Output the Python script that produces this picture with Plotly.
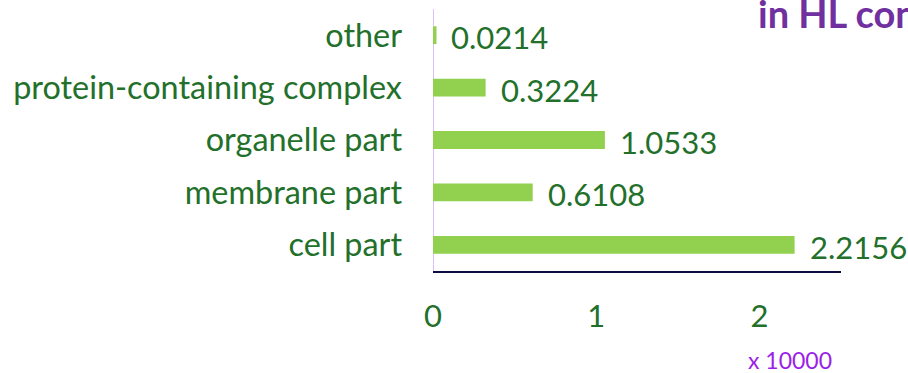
import plotly.graph_objects as go

# Cellular component categories and counts (in units of 10,000)
categories = ["cell part", "membrane part", "organelle part",
              "protein-containing complex", "other"]
values = [2.2156, 0.6108, 1.0533, 0.3224, 0.0214]
value_labels = ["2.2156", "0.6108", "1.0533", "0.3224", "0.0214"]
x_ticks = [0, 1, 2]
x_tick_text = ["0", "1", "2"]

BAR = "#92D050"
GREEN_TEXT = "#22702A"
PURPLE = "#7030A0"
FONT = "Lato"

L, R, T, B = 433, 67, 9, 102
W, H = 908, 373
PW, PH = W - L - R, H - T - B

fig = go.Figure()
fig.add_trace(go.Bar(
    x=values, y=categories, orientation="h",
    marker=dict(color=BAR, line=dict(width=0)),
    width=0.34, showlegend=False, hoverinfo="skip",
))

# value labels to the right of each bar
for cat, v, t in zip(categories, values, value_labels):
    fig.add_annotation(x=v, y=cat, text=t, xref="x", yref="y",
                       xanchor="left", yanchor="middle", showarrow=False,
                       xshift=13, yshift=-2,
                       font=dict(family=FONT, size=31, color=GREEN_TEXT))

# unit note under the axis
fig.add_annotation(xref="paper", yref="paper",
                   x=(790 - L) / PW, y=-(360 - (H - B)) / PH,
                   xanchor="center", yanchor="middle", showarrow=False,
                   text="x 10000",
                   font=dict(family=FONT, size=23, color="#9B1FE8"))

# heading text running off the right edge
fig.add_annotation(xref="paper", yref="paper", x=(756 - L) / PW, y=1.0,
                   xanchor="left", yanchor="top", showarrow=False,
                   yshift=21, text="<b>in HL con</b>",
                   font=dict(family=FONT, size=38, color=PURPLE))

fig.update_layout(
    width=W, height=H,
    margin=dict(l=L, r=R, t=T, b=B),
    paper_bgcolor="white", plot_bgcolor="white",
    xaxis=dict(range=[0, 2.5], tickvals=x_ticks, ticktext=x_tick_text,
               showgrid=False, zeroline=False, showline=True,
               linecolor="#0D0D3F", linewidth=2, ticks="",
               ticklabelstandoff=17, automargin=False,
               tickfont=dict(family=FONT, size=31, color=GREEN_TEXT)),
    yaxis=dict(categoryorder="array", categoryarray=categories,
               range=[-0.5, 4.5], showgrid=False, zeroline=False,
               showline=False, ticks="", ticklabelstandoff=30,
               automargin=False,
               tickfont=dict(family=FONT, size=32.4, color=GREEN_TEXT)),
)

# light purple axis line at zero
fig.add_shape(type="line", xref="x", yref="paper", x0=0, x1=0, y0=0, y1=1.0,
              line=dict(color="#DCC0F8", width=2), layer="below")

fig.write_html("out.html")
